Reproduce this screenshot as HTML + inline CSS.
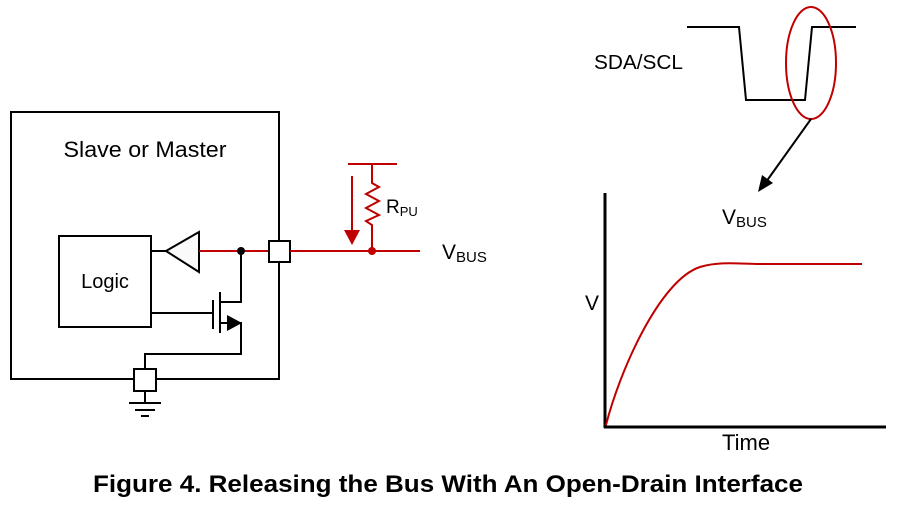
<!DOCTYPE html>
<html><head><style>html,body{margin:0;padding:0;background:#fff;}svg{display:block;}</style></head>
<body>
<svg width="901" height="507" viewBox="0 0 901 507" xmlns="http://www.w3.org/2000/svg" font-family="Liberation Sans, sans-serif">
<!-- main box -->
<rect x="11" y="112" width="268" height="267" fill="none" stroke="#000" stroke-width="2"/>
<text x="145" y="157" font-size="22" text-anchor="middle" textLength="163" lengthAdjust="spacingAndGlyphs">Slave or Master</text>
<rect x="59" y="236" width="92" height="91" fill="none" stroke="#000" stroke-width="2"/>
<text x="105" y="288" font-size="20" text-anchor="middle">Logic</text>
<!-- buffer -->
<line x1="151" y1="251" x2="166" y2="251" stroke="#000" stroke-width="2"/>
<polygon points="166,251 199,232 199,272" fill="#fafafa" stroke="#000" stroke-width="2"/>
<line x1="199" y1="251" x2="269" y2="251" stroke="#c00000" stroke-width="2"/>
<circle cx="241" cy="251" r="4" fill="#000"/>
<!-- mosfet -->
<polyline points="241,251 241,302 220,302" fill="none" stroke="#000" stroke-width="2"/>
<line x1="220" y1="292" x2="220" y2="333" stroke="#000" stroke-width="2"/>
<line x1="213" y1="300" x2="213" y2="329" stroke="#000" stroke-width="2"/>
<line x1="151" y1="313" x2="213" y2="313" stroke="#000" stroke-width="2"/>
<polygon points="227,315 242,323 227,331" fill="#000"/>
<polyline points="220,323 241,323 241,354 145,354 145,369" fill="none" stroke="#000" stroke-width="2"/>
<!-- pads -->
<rect x="269" y="241" width="21" height="21" fill="#fff" stroke="#000" stroke-width="2"/>
<rect x="134" y="369" width="22" height="22" fill="#fff" stroke="#000" stroke-width="2"/>
<!-- ground -->
<line x1="145" y1="391" x2="145" y2="403" stroke="#000" stroke-width="2"/>
<line x1="129" y1="403" x2="161" y2="403" stroke="#000" stroke-width="2"/>
<line x1="135" y1="410" x2="155" y2="410" stroke="#000" stroke-width="2"/>
<line x1="141" y1="416" x2="149" y2="416" stroke="#000" stroke-width="2"/>
<!-- red bus -->
<line x1="290" y1="251" x2="420" y2="251" stroke="#c00000" stroke-width="2"/>
<circle cx="372" cy="251" r="4" fill="#c00000"/>
<line x1="348" y1="164" x2="397" y2="164" stroke="#c00000" stroke-width="2"/>
<polyline points="372,164 372,183 379,187 366,194 379,201 366,208 379,215 366,221 372,225 372,251" fill="none" stroke="#c00000" stroke-width="2"/>
<line x1="352" y1="176" x2="352" y2="232" stroke="#c00000" stroke-width="2"/>
<polygon points="344,230 360,230 352,245" fill="#c00000"/>
<text x="386" y="213" font-size="19">R<tspan font-size="13" dy="3">PU</tspan></text>
<text x="442" y="259" font-size="21">V<tspan font-size="15" dy="3">BUS</tspan></text>
<!-- waveform -->
<text x="594" y="69" font-size="20" textLength="89" lengthAdjust="spacingAndGlyphs">SDA/SCL</text>
<polyline points="687,27 739,27 746,100 805,100 812,27 856,27" fill="none" stroke="#000" stroke-width="2"/>
<ellipse cx="811" cy="63" rx="25" ry="56" fill="none" stroke="#c00000" stroke-width="2"/>
<line x1="811" y1="119" x2="766" y2="182" stroke="#000" stroke-width="2"/>
<polygon points="758,192 762,175 773,183" fill="#000"/>
<!-- graph -->
<line x1="605" y1="193" x2="605" y2="428" stroke="#000" stroke-width="3"/>
<line x1="604" y1="427" x2="886" y2="427" stroke="#000" stroke-width="3"/>
<path d="M606,425 C620,370 660,280 700,267 C720,261 740,264 760,264 L862,264" fill="none" stroke="#c00000" stroke-width="2"/>
<text x="722" y="224" font-size="21">V<tspan font-size="15" dy="3">BUS</tspan></text>
<text x="585" y="310" font-size="21">V</text>
<text x="722" y="450" font-size="22">Time</text>
<text x="448" y="492" font-size="24" font-weight="bold" text-anchor="middle" textLength="710" lengthAdjust="spacingAndGlyphs">Figure 4. Releasing the Bus With An Open-Drain Interface</text>
</svg>
</body></html>
